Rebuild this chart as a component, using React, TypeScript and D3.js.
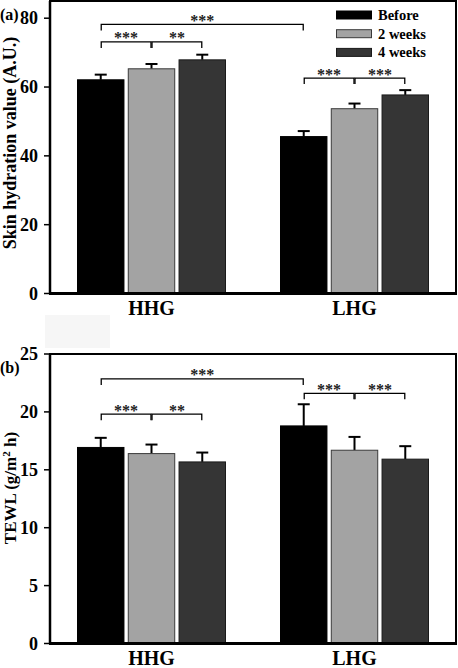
import React from "react";
import * as d3 from "d3";

const groups = ["HHG", "LHG"];
const series = ["Before", "2 weeks", "4 weeks"];
const hydration = [
  [62.1, 65.3, 67.9],
  [45.6, 53.7, 57.7],
];
const hydrationErr = [
  [1.5, 1.4, 1.5],
  [1.6, 1.5, 1.4],
];
const tewl = [
  [16.93, 16.4, 15.68],
  [18.79, 16.69, 15.92],
];
const tewlErr = [
  [0.83, 0.78, 0.81],
  [1.87, 1.15, 1.12],
];
const hydrationTicks = [0, 20, 40, 60, 80];
const tewlTicks = [0, 5, 10, 15, 20, 25];
// brackets: [groupA, seriesA, groupB, seriesB, label, level]
const hydrationBrackets: [number, number, number, number, string, number][] = [
  [0, 0, 1, 0, "***", 78.2],
  [0, 0, 0, 1, "***", 73.1],
  [0, 1, 0, 2, "**", 73.1],
  [1, 0, 1, 1, "***", 62.6],
  [1, 1, 1, 2, "***", 62.6],
];
const tewlBrackets: [number, number, number, number, string, number][] = [
  [0, 0, 1, 0, "***", 22.85],
  [0, 0, 0, 1, "***", 19.8],
  [0, 1, 0, 2, "**", 19.8],
  [1, 0, 1, 1, "***", 21.6],
  [1, 1, 1, 2, "***", 21.6],
];

const fills = ["#000000", "#a3a3a3", "#353535"];
const strokes = ["#000000", "#3a3a3a", "#1a1a1a"];
const FONT = "'Liberation Serif', 'Times New Roman', serif";

type PanelProps = {
  tag: string;
  values: number[][];
  errs: number[][];
  ticks: number[];
  domain: [number, number];
  top: number;
  bottom: number;
  yLabel: React.ReactNode;
  yLabelCenter: number;
  yLabelSize: number;
  brackets: [number, number, number, number, string, number][];
  legend: boolean;
};

function Panel(p: PanelProps) {
  const x0 = d3.scaleBand<string>().domain(groups).range([50, 456]).padding(0);
  const x1 = d3.scaleBand<string>().domain(series).range([-74, 74]).paddingInner(0.085).paddingOuter(0);
  const y = d3.scaleLinear().domain(p.domain).range([p.bottom, p.top]);
  const cx = (g: number, s: number) =>
    (x0(groups[g]) as number) + x0.bandwidth() / 2 + (x1(series[s]) as number) + x1.bandwidth() / 2;
  return (
    <g>
      <text x={0} y={p.top + 19} fontFamily={FONT} fontWeight="bold" fontSize={16}>
        {p.tag}
      </text>
      {groups.map((g, gi) =>
        series.map((s, si) => {
          const bx = (x0(g) as number) + x0.bandwidth() / 2 + (x1(s) as number);
          const v = p.values[gi][si];
          const e = p.errs[gi][si];
          const c = cx(gi, si);
          return (
            <g key={g + s}>
              <line x1={c} x2={c} y1={y(v)} y2={y(v + e)} stroke="#000" strokeWidth={2} />
              <line x1={c - 6} x2={c + 6} y1={y(v + e)} y2={y(v + e)} stroke="#000" strokeWidth={2} />
              <rect
                x={bx}
                y={y(v)}
                width={x1.bandwidth()}
                height={y(0) - y(v)}
                fill={fills[si]}
                stroke={strokes[si]}
                strokeWidth={1}
              />
            </g>
          );
        })
      )}
      {p.brackets.map((b, i) => {
        const xa = cx(b[0], b[1]) + 0.5;
        const xb = cx(b[2], b[3]) - 0.5;
        const ly = y(b[5]);
        return (
          <g key={"br" + i}>
            <path
              d={`M${xa},${ly + 6}V${ly}H${xb}V${ly + 6}`}
              fill="none"
              stroke="#000"
              strokeWidth={1.3}
            />
            <text
              x={(xa + xb) / 2}
              y={ly + 1.5}
              textAnchor="middle"
              fontFamily={FONT}
              fontWeight="bold"
              fontSize={16}
              fill="#222"
            >
              {b[4]}
            </text>
          </g>
        );
      })}
      {p.ticks.map((t) => (
        <g key={"t" + t}>
          <line x1={44} x2={50} y1={y(t)} y2={y(t)} stroke="#000" strokeWidth={1.5} />
          <text
            x={38}
            y={y(t) + 6}
            textAnchor="end"
            fontFamily={FONT}
            fontWeight="bold"
            fontSize={18}
          >
            {t}
          </text>
        </g>
      ))}
      <rect
        x={50}
        y={p.top}
        width={406}
        height={p.bottom - p.top}
        fill="none"
        stroke="#000"
        strokeWidth={2}
      />
      <line x1={49} x2={457} y1={p.bottom} y2={p.bottom} stroke="#000" strokeWidth={3} />
      <line x1={50} x2={50} y1={p.top} y2={p.bottom} stroke="#000" strokeWidth={2.5} />
      {groups.map((g) => (
        <text
          key={"gl" + g}
          x={(x0(g) as number) + x0.bandwidth() / 2}
          y={p.bottom + 21}
          textAnchor="middle"
          fontFamily={FONT}
          fontWeight="bold"
          fontSize={20}
        >
          {g}
        </text>
      ))}
      <text
        transform={`translate(16,${p.yLabelCenter}) rotate(-90)`}
        textAnchor="middle"
        fontFamily={FONT}
        fontWeight="bold"
        fontSize={p.yLabelSize}
      >
        {p.yLabel}
      </text>
      {p.legend &&
        series.map((s, si) => (
          <g key={"lg" + s}>
            <rect
              x={336.5}
              y={11 + si * 18.7}
              width={35}
              height={8}
              fill={fills[si]}
              stroke={strokes[si]}
              strokeWidth={1}
            />
            <text
              x={378}
              y={20 + si * 18.7}
              fontFamily={FONT}
              fontWeight="bold"
              fontSize={14.5}
            >
              {s}
            </text>
          </g>
        ))}
    </g>
  );
}

export default function App() {
  return (
    <svg
      width={458}
      height={668}
      style={{ position: "absolute", left: 0, top: 0, background: "#fff" }}
    >
      <rect x={0} y={0} width={458} height={668} fill="#fff" />
      <rect x={45} y={315} width={65} height={33} fill="#f6f6f6" />
      <Panel
        tag="(a)"
        values={hydration}
        errs={hydrationErr}
        ticks={hydrationTicks}
        domain={[0, 85]}
        top={1}
        bottom={293.5}
        yLabel="Skin hydration value (A.U.)"
        yLabelCenter={143}
        yLabelSize={18}
        brackets={hydrationBrackets}
        legend={true}
      />
      <Panel
        tag="(b)"
        values={tewl}
        errs={tewlErr}
        ticks={tewlTicks}
        domain={[0, 25]}
        top={354}
        bottom={643.5}
        yLabel={
          <>
            TEWL (g/m
            <tspan dy={-6} fontSize={11}>
              2
            </tspan>
            <tspan dy={6}> h)</tspan>
          </>
        }
        yLabelCenter={488}
        yLabelSize={17}
        brackets={tewlBrackets}
        legend={false}
      />
    </svg>
  );
}
